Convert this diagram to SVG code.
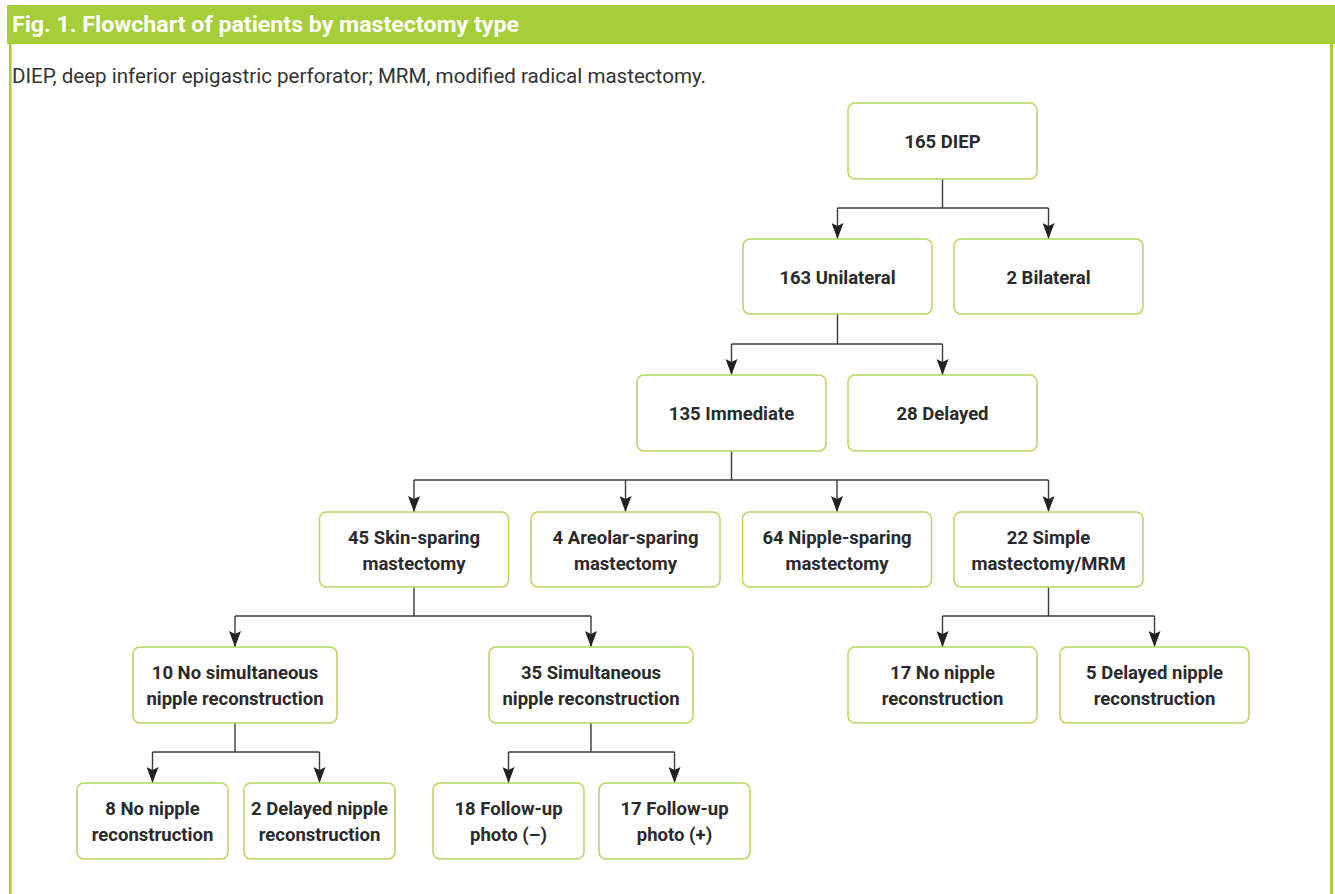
<svg xmlns="http://www.w3.org/2000/svg" width="1335" height="894" viewBox="0 0 1335 894">
<defs>
<style>
.box{fill:#fff;stroke:#b7d65e;stroke-width:1.5}
.t{font-family:Roboto,"Liberation Sans",Arial,sans-serif;font-weight:bold;font-size:18.5px;fill:#2a2a2a;text-anchor:middle}
.ln{fill:none;stroke:#3a3a3a;stroke-width:1.4}
.ar{fill:none;stroke:#3a3a3a;stroke-width:1.4;marker-end:url(#ah)}
</style>
<marker id="ah" markerUnits="userSpaceOnUse" markerWidth="16" markerHeight="12" viewBox="0 0 16 12" refX="16" refY="6" orient="auto">
<path d="M0 0 L16 6 L0 12 L3 6 Z" fill="#222"/>
</marker>
</defs>
<rect width="1335" height="894" fill="#fff"/>
<g id="frame">
<rect x="7" y="5" width="1328" height="39" fill="#a6ce39"/>
<rect x="9" y="44" width="2.6" height="850" fill="#a6ce39"/>
<rect x="1330" y="44" width="3" height="850" fill="#a6ce39"/>
<text x="12" y="32" font-family="Roboto,'Liberation Sans',Arial,sans-serif" font-weight="bold" font-size="22.5" fill="#fff" textLength="507" lengthAdjust="spacingAndGlyphs">Fig. 1. Flowchart of patients by mastectomy type</text>
<text x="12" y="83" font-family="Roboto,'Liberation Sans',Arial,sans-serif" font-size="20" fill="#333" textLength="694" lengthAdjust="spacingAndGlyphs">DIEP, deep inferior epigastric perforator; MRM, modified radical mastectomy.</text>
</g>
<g id="connectors">
<path class="ln" d="M942.5 179 V208 M837.5 208 H1048.5"/>
<path class="ar" d="M837.5 208 V239"/>
<path class="ar" d="M1048.5 208 V239"/>
<path class="ln" d="M837.5 314 V344 M731.5 344 H942.5"/>
<path class="ar" d="M731.5 344 V375"/>
<path class="ar" d="M942.5 344 V375"/>
<path class="ln" d="M731.5 451 V480 M414 480 H1048.5"/>
<path class="ar" d="M414 480 V512"/>
<path class="ar" d="M625.5 480 V512"/>
<path class="ar" d="M837 480 V512"/>
<path class="ar" d="M1048.5 480 V512"/>
<path class="ln" d="M414 587 V616 M235 616 H591"/>
<path class="ar" d="M235 616 V647"/>
<path class="ar" d="M591 616 V647"/>
<path class="ln" d="M1048.5 587 V616 M942.5 616 H1154.5"/>
<path class="ar" d="M942.5 616 V647"/>
<path class="ar" d="M1154.5 616 V647"/>
<path class="ln" d="M235 723 V752 M152.5 752 H319.5"/>
<path class="ar" d="M152.5 752 V783"/>
<path class="ar" d="M319.5 752 V783"/>
<path class="ln" d="M591 723 V752 M508.5 752 H674.5"/>
<path class="ar" d="M508.5 752 V783"/>
<path class="ar" d="M674.5 752 V783"/>
</g>
<g id="n165"><rect class="box" x="848" y="103" width="189" height="76" rx="7"/><text class="t" x="942.5" y="148">165 DIEP</text></g>
<g id="n163"><rect class="box" x="743" y="239" width="189" height="75" rx="7"/><text class="t" x="837.5" y="284">163 Unilateral</text></g>
<g id="n2b"><rect class="box" x="954" y="239" width="189" height="75" rx="7"/><text class="t" x="1048.5" y="284">2 Bilateral</text></g>
<g id="n135"><rect class="box" x="637" y="375" width="189" height="76" rx="7"/><text class="t" x="731.5" y="420">135 Immediate</text></g>
<g id="n28"><rect class="box" x="848" y="375" width="189" height="76" rx="7"/><text class="t" x="942.5" y="420">28 Delayed</text></g>
<g id="n45"><rect class="box" x="319.5" y="512" width="189" height="75" rx="7"/><text class="t" x="414" y="544">45 Skin-sparing</text><text class="t" x="414" y="570">mastectomy</text></g>
<g id="n4"><rect class="box" x="531" y="512" width="189" height="75" rx="7"/><text class="t" x="625.5" y="544">4 Areolar-sparing</text><text class="t" x="625.5" y="570">mastectomy</text></g>
<g id="n64"><rect class="box" x="742.5" y="512" width="189" height="75" rx="7"/><text class="t" x="837" y="544">64 Nipple-sparing</text><text class="t" x="837" y="570">mastectomy</text></g>
<g id="n22"><rect class="box" x="954" y="512" width="189" height="75" rx="7"/><text class="t" x="1048.5" y="544">22 Simple</text><text class="t" x="1048.5" y="570">mastectomy/MRM</text></g>
<g id="n10"><rect class="box" x="133" y="647" width="204" height="76" rx="7"/><text class="t" x="235" y="679">10 No simultaneous</text><text class="t" x="235" y="705">nipple reconstruction</text></g>
<g id="n35"><rect class="box" x="489" y="647" width="204" height="76" rx="7"/><text class="t" x="591" y="679">35 Simultaneous</text><text class="t" x="591" y="705">nipple reconstruction</text></g>
<g id="n17n"><rect class="box" x="848" y="647" width="189" height="76" rx="7"/><text class="t" x="942.5" y="679">17 No nipple</text><text class="t" x="942.5" y="705">reconstruction</text></g>
<g id="n5d"><rect class="box" x="1060" y="647" width="189" height="76" rx="7"/><text class="t" x="1154.5" y="679">5 Delayed nipple</text><text class="t" x="1154.5" y="705">reconstruction</text></g>
<g id="n8"><rect class="box" x="77" y="783" width="151" height="76" rx="7"/><text class="t" x="152.5" y="815">8 No nipple</text><text class="t" x="152.5" y="841">reconstruction</text></g>
<g id="n2d"><rect class="box" x="244" y="783" width="151" height="76" rx="7"/><text class="t" x="319.5" y="815">2 Delayed nipple</text><text class="t" x="319.5" y="841">reconstruction</text></g>
<g id="n18"><rect class="box" x="433" y="783" width="151" height="76" rx="7"/><text class="t" x="508.5" y="815">18 Follow-up</text><text class="t" x="508.5" y="841">photo (–)</text></g>
<g id="n17f"><rect class="box" x="599" y="783" width="151" height="76" rx="7"/><text class="t" x="674.5" y="815">17 Follow-up</text><text class="t" x="674.5" y="841">photo (+)</text></g>
</svg>
